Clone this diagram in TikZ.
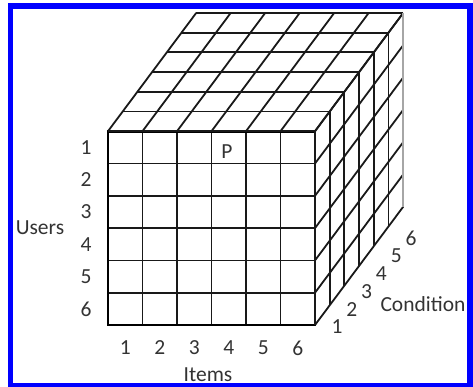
\documentclass[tikz,border=0pt]{standalone}
\usepackage{fontspec}
\setmainfont{Carlito}
\begin{document}
\begin{tikzpicture}[x=34.5pt, y=32.3pt,
    gridline/.style={line width=1.8pt, black!90},
    lbl/.style={text=black!80, inner sep=0pt, font=\fontsize{21.5}{25}\selectfont}]
    \useasboundingbox (-108pt,-61pt) rectangle (365pt,325pt);
    \def\dx{0.426}
    \def\dy{0.61}

    % 正面
    \foreach \i in {0,...,6} {
        \draw[gridline] (\i,0) -- (\i,6);
        \draw[gridline] (0,\i) -- (6,\i);
    }
    \draw[line width=2.6pt] (0,0) rectangle (6,6);

    % 顶面
    \foreach \i in {0,...,6} {
        \draw[gridline] (\i,6) -- ++(6*\dx,6*\dy);
        \draw[gridline] (\i*\dx,6+\i*\dy) -- ++(6,0);
    }

    % 侧面
    \foreach \i in {0,...,6} {
        \draw[gridline] (6,\i) -- ++(6*\dx,6*\dy);
    }
    \foreach \i in {0,...,5} {
        \draw[gridline] (6+\i*\dx,\i*\dy) -- ++(0,6);
    }
    \draw[line width=1.8pt, gray!70] (6+6*\dx,6*\dy) -- ++(0,6);

    % 坐标标注
    \foreach \i in {1,...,6} {
        \node[lbl] (u\i) at (-0.638,6.5-\i) {\i};
        \node[lbl] (it\i) at (\i-0.5,-0.712) {\i};
        \node[lbl] (c\i) at (6.638+\i*0.429-0.429,-0.062+\i*0.551-0.551) {\i};
    }
    \node[lbl] (users) at (-1.971,3.003) {Users};
    \node[lbl, anchor=base] (items) at (2.899,-1.749) {Items};
    \node[lbl] (cond) at (9.130,0.650) {Condition};
    \node[lbl] (p) at (3.449,5.356) {P};

    % 边框
    \draw[blue, line width=5.5pt] (-97.5pt,-61pt) rectangle (362pt,319pt);
\end{tikzpicture}
\end{document}
